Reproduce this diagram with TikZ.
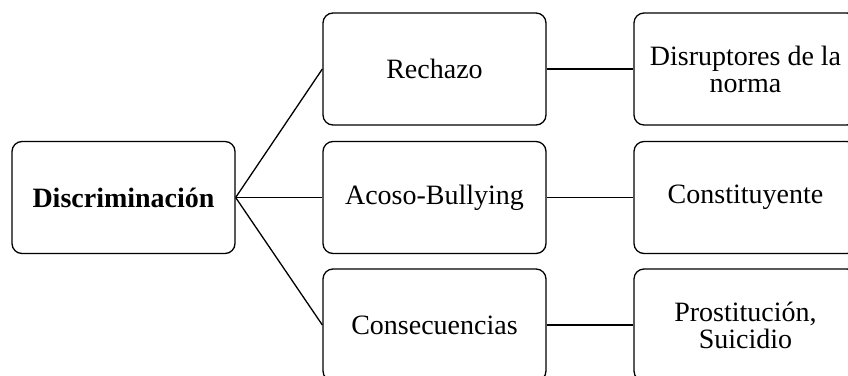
\documentclass[tikz,border=0pt]{standalone}
\usepackage{fontspec}
\setmainfont{Liberation Serif}
\begin{document}
\begin{tikzpicture}[x=1pt,y=-1pt]
        \tikzstyle{topic}=[rectangle,rounded corners=10pt,line width=1.3pt,draw=black,fill=white,minimum width=223pt,minimum height=112pt,inner sep=4pt,align=center,font=\fontsize{28}{27}\selectfont]
        \tikzstyle{edge}=[draw, line width=1.3pt]
        \useasboundingbox (0,0) rectangle (848,375);
        \clip (0,0) rectangle (848,375);
       \begin{scope}
         \node [topic] (d) at (123.5,197.5) {\textbf{Discriminación}};
         \node [topic] (c1) at (434.5,69) {Rechazo};
         \node [topic] (c2) at (434.5,197.5) {Acoso-Bullying};
         \node [topic] (c3) at (434.5,325) {Consecuencias};
         \node [topic] (s1) at (745.5,69) {Disruptores de la\\norma};
         \node [topic] (s2) at (745.5,197.5) {Constituyente};
         \node [topic] (s3) at (745.5,325) {Prostitución,\\Suicidio};
         \path[edge] (d.east) edge (c1.west);
         \path[edge] (d.east) edge (c2.west);
         \path[edge] (d.east) edge (c3.west);
         \path[edge] (c1) edge (s1);
         \path[edge] (c2) edge (s2);
         \path[edge] (c3) edge (s3);
        \end{scope}
      \end{tikzpicture}
\end{document}
